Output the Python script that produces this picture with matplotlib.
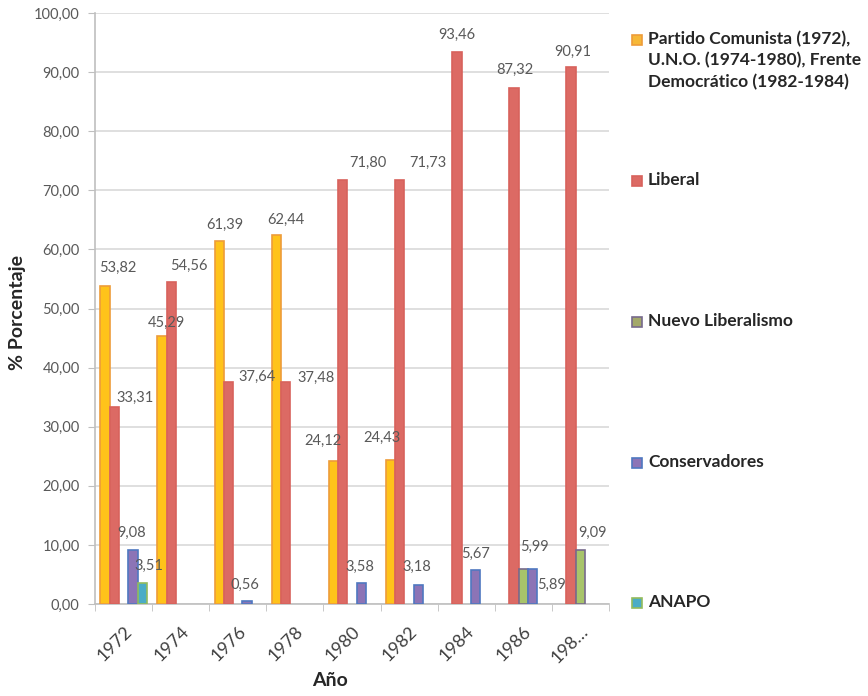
import numpy as np
import matplotlib.pyplot as plt
from matplotlib.patches import Rectangle
from matplotlib.ticker import FuncFormatter

plt.rcParams['font.family'] = ['Lato', 'DejaVu Sans']

# Datos (% por partido y año)
years = ['1972', '1974', '1976', '1978', '1980', '1982', '1984', '1986', '198…']
comunista = [53.82, 45.29, 61.39, 62.44, 24.12, 24.43, 0, 0, 0]
liberal = [33.31, 54.56, 37.64, 37.48, 71.80, 71.73, 93.46, 87.32, 90.91]
nuevo_lib = [0, 0, 0, 0, 0, 0, 0, 5.99, 9.09]
conservadores = [9.08, 0, 0.56, 0, 3.58, 3.18, 5.67, 5.89, 0]
anapo = [3.51, 0, 0, 0, 0, 0, 0, 0, 0]

names = ['Partido Comunista (1972),\nU.N.O. (1974-1980), Frente\nDemocrático (1982-1984)',
         'Liberal', 'Nuevo Liberalismo', 'Conservadores', 'ANAPO']
series = [comunista, liberal, nuevo_lib, conservadores, anapo]
faces = ['#FFC31A', '#DC6A64', '#A8C46A', '#8C74B6', '#4BACC6']
edges = ['#EE9C3A', '#D8625C', '#776A8C', '#4F78C0', '#94BB5C']
swatch = ['#F6B838', '#DC6A64', '#A3A86A', '#8C74B6', '#4BACC6']

# label offsets (px right, px down) from bar top, as in the original
offsets = {
    (0, 0): (13, -18), (1, 0): (21, -9), (3, 0): (-1, -17), (4, 0): (7, -17),
    (0, 1): (4, -13), (1, 1): (18, -16),
    (0, 2): (6, -16), (1, 2): (29, -5), (3, 2): (-2, -16),
    (0, 3): (10, -15), (1, 3): (30, -5),
    (0, 4): (-10, -21), (1, 4): (25, -17), (3, 4): (-1, -16),
    (0, 5): (-9, -22), (1, 5): (28, -17), (3, 5): (-2, -18),
    (1, 6): (0, -17), (3, 6): (0, -17),
    (1, 7): (1, -18), (2, 7): (11, -22), (3, 7): (19, 16),
    (1, 8): (2, -15), (2, 8): (12, -17),
}

fig = plt.figure(figsize=(8.68, 6.96), dpi=100)
ax = fig.add_axes([95/868, 1-604/696, (609-95)/868, (604-13)/696])

x = np.arange(len(years))
w = 0.163
for j, vals in enumerate(series):
    vals = np.array(vals)
    xs = x + (j - 2) * w
    keep = vals > 0
    ax.bar(xs[keep], vals[keep], width=w, color=faces[j], edgecolor=edges[j],
           linewidth=1.2, zorder=3)
    for i, v in enumerate(vals):
        if v == 0:
            continue
        dx, dy = offsets.get((j, i), (0, -16))
        ax.annotate(f'{v:.2f}'.replace('.', ','), xy=(xs[i], v), xytext=(dx, -dy),
                    textcoords='offset pixels', ha='center', va='center',
                    fontsize=10.5, color='#595959', zorder=4)

ax.set_xlim(-0.5, len(years) - 0.5)
ax.set_ylim(0, 100)
ax.set_yticks(np.arange(0, 101, 10))
ax.yaxis.set_major_formatter(FuncFormatter(lambda v, p: f'{v:.2f}'.replace('.', ',')))
ax.tick_params(axis='y', length=5, color='#BFBFBF', labelcolor='#595959', labelsize=10.5, pad=6)
ax.grid(axis='y', color='#D9D9D9', linewidth=1.2, zorder=0)

ax.set_xticks(x)
ax.set_xticklabels(years, rotation=45, ha='right', rotation_mode='anchor', fontsize=13, color='#404040')
ax.set_xticks(np.arange(-0.5, len(years)), minor=True)
ax.tick_params(axis='x', which='major', length=0, pad=14)
ax.tick_params(axis='x', which='minor', length=5, color='#BFBFBF')

for s in ['top', 'right']:
    ax.spines[s].set_visible(False)
for s in ['left', 'bottom']:
    ax.spines[s].set_color('#BFBFBF')
    ax.spines[s].set_linewidth(1.2)

fig.text(330/868, 1-681/696, 'Año', ha='center', va='center', fontsize=14, fontweight='bold', color='#262626')
fig.text(18/868, 1-312/696, '% Porcentaje', ha='center', va='center', rotation=90,
         fontsize=14, fontweight='bold', color='#262626')

# leyenda manual, una entrada por fila como en el original
leg_y = [40, 181, 322, 463, 603]
for j, name in enumerate(names):
    yc = 1 - leg_y[j]/696
    fig.add_artist(Rectangle((632/868, yc - 5/696), 10/868, 10/696, transform=fig.transFigure,
                             facecolor=swatch[j], edgecolor=edges[j], linewidth=1.2))
    fig.text(648/868, yc + 9/696, name, ha='left', va='top', fontsize=12.5, fontweight='bold',
             color='#262626', linespacing=1.38)

fig.savefig('out.png', dpi=100)
